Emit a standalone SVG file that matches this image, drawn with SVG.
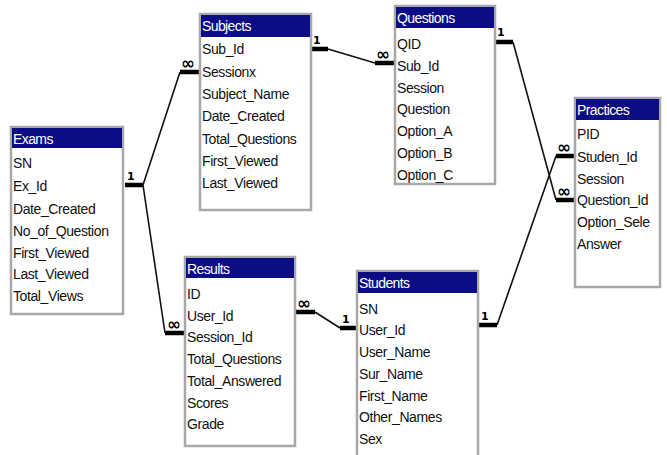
<svg xmlns="http://www.w3.org/2000/svg" width="667" height="455" viewBox="0 0 667 455">
<style>
.box{fill:#fff;stroke:#a8a8a8;stroke-width:2.5}
.hd{fill:#0c0c84}
.ht{font-family:"Liberation Sans",Arial,sans-serif;font-size:14px;fill:#fff;letter-spacing:-0.6px}
.ft{font-family:"Liberation Sans",Arial,sans-serif;font-size:14px;fill:#111;letter-spacing:-0.4px}
.ln{stroke:#111;stroke-width:1.6;fill:none}
.bar{stroke:#000;stroke-width:4.5;fill:none}
.lb{font-family:"DejaVu Sans",sans-serif;font-size:11px;font-weight:bold;fill:#000}
.inf{font-family:"DejaVu Sans",sans-serif;font-size:17px;font-weight:bold;fill:#000}
</style>
<rect width="667" height="455" fill="#fff"/>
<g id="connectors">
  <!-- Exams - Subjects -->
  <path class="bar" d="M125 185H143M180 72H200"/>
  <path class="ln" d="M143 185L180 72"/>
  <text class="lb" x="127" y="180">1</text>
  <text class="inf" x="181" y="69">∞</text>
  <!-- Exams - Results -->
  <path class="bar" d="M165 333H185"/>
  <path class="ln" d="M143 185L165 333"/>
  <text class="inf" x="167" y="330">∞</text>
  <!-- Subjects - Questions -->
  <path class="bar" d="M311 49H328M375 63H395"/>
  <path class="ln" d="M328 49L375 63"/>
  <text class="lb" x="313" y="44">1</text>
  <text class="inf" x="376" y="60">∞</text>
  <!-- Questions - Practices -->
  <path class="bar" d="M496 42H513M556 200H575"/>
  <path class="ln" d="M513 42L556 200"/>
  <text class="lb" x="497" y="36">1</text>
  <text class="inf" x="557" y="197">∞</text>
  <!-- Students - Practices -->
  <path class="bar" d="M478 325H497M556 156H575"/>
  <path class="ln" d="M497 325L556 156"/>
  <text class="lb" x="481" y="320">1</text>
  <text class="inf" x="557" y="153">∞</text>
  <!-- Results - Students -->
  <path class="bar" d="M295 312H315M340 328H357"/>
  <path class="ln" d="M315 312L340 328"/>
  <text class="inf" x="297" y="309">∞</text>
  <text class="lb" x="342" y="323">1</text>
</g>
<g id="exams">
  <rect class="box" x="11" y="127" width="112" height="187"/>
  <rect class="hd" x="12" y="128" width="110" height="20"/>
  <text class="ht" x="13" y="144">Exams</text>
  <text class="ft" x="13" y="168">SN</text>
  <text class="ft" x="13" y="191">Ex_Id</text>
  <text class="ft" x="13" y="214">Date_Created</text>
  <text class="ft" x="13" y="236">No_of_Question</text>
  <text class="ft" x="13" y="258">First_Viewed</text>
  <text class="ft" x="13" y="279">Last_Viewed</text>
  <text class="ft" x="13" y="301">Total_Views</text>
</g>
<g id="subjects">
  <rect class="box" x="200" y="14" width="111" height="196"/>
  <rect class="hd" x="201" y="15" width="109" height="22"/>
  <text class="ht" x="202" y="31">Subjects</text>
  <text class="ft" x="202" y="54">Sub_Id</text>
  <text class="ft" x="202" y="77">Sessionx</text>
  <text class="ft" x="202" y="99">Subject_Name</text>
  <text class="ft" x="202" y="121">Date_Created</text>
  <text class="ft" x="202" y="144">Total_Questions</text>
  <text class="ft" x="202" y="166">First_Viewed</text>
  <text class="ft" x="202" y="188">Last_Viewed</text>
</g>
<g id="questions">
  <rect class="box" x="395" y="6" width="100" height="178"/>
  <rect class="hd" x="396" y="7" width="98" height="21"/>
  <text class="ht" x="397" y="23">Questions</text>
  <text class="ft" x="397" y="49">QID</text>
  <text class="ft" x="397" y="71">Sub_Id</text>
  <text class="ft" x="397" y="93">Session</text>
  <text class="ft" x="397" y="114">Question</text>
  <text class="ft" x="397" y="136">Option_A</text>
  <text class="ft" x="397" y="158">Option_B</text>
  <text class="ft" x="397" y="180">Option_C</text>
</g>
<g id="practices">
  <rect class="box" x="575" y="98" width="85" height="189"/>
  <rect class="hd" x="576" y="99" width="83" height="21"/>
  <text class="ht" x="577" y="115">Practices</text>
  <text class="ft" x="577" y="139">PID</text>
  <text class="ft" x="577" y="162">Studen_Id</text>
  <text class="ft" x="577" y="184">Session</text>
  <text class="ft" x="577" y="205">Question_Id</text>
  <text class="ft" x="577" y="227">Option_Sele</text>
  <text class="ft" x="577" y="249">Answer</text>
</g>
<g id="results">
  <rect class="box" x="185" y="257" width="110" height="189"/>
  <rect class="hd" x="186" y="258" width="108" height="20"/>
  <text class="ht" x="187" y="274">Results</text>
  <text class="ft" x="187" y="299">ID</text>
  <text class="ft" x="187" y="321">User_Id</text>
  <text class="ft" x="187" y="342">Session_Id</text>
  <text class="ft" x="187" y="364">Total_Questions</text>
  <text class="ft" x="187" y="386">Total_Answered</text>
  <text class="ft" x="187" y="408">Scores</text>
  <text class="ft" x="187" y="429">Grade</text>
</g>
<g id="students">
  <rect class="box" x="357" y="271" width="121" height="190"/>
  <rect class="hd" x="358" y="272" width="119" height="21"/>
  <text class="ht" x="359" y="288">Students</text>
  <text class="ft" x="359" y="314">SN</text>
  <text class="ft" x="359" y="335">User_Id</text>
  <text class="ft" x="359" y="357">User_Name</text>
  <text class="ft" x="359" y="379">Sur_Name</text>
  <text class="ft" x="359" y="401">First_Name</text>
  <text class="ft" x="359" y="422">Other_Names</text>
  <text class="ft" x="359" y="444">Sex</text>
</g>
</svg>
